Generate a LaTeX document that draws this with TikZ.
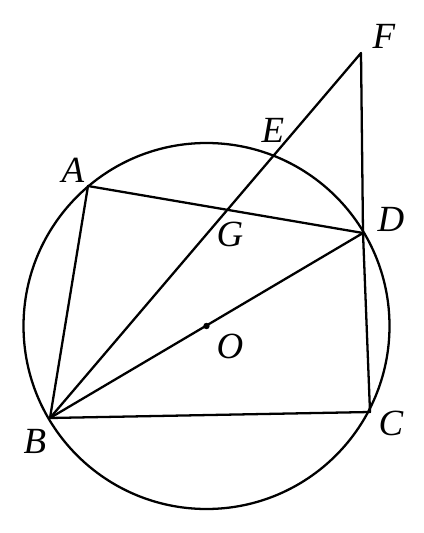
\documentclass[tikz,border=0pt]{standalone}
\usepackage{fontspec}
\setmainfont{Liberation Serif}
\begin{document}
\begin{tikzpicture}[x=0.02cm,y=-0.02cm,
  ln/.style={line width=1.3pt,line join=round},
  lbl/.style={font=\fontsize{21}{24}\selectfont\itshape,inner sep=0pt}]
\useasboundingbox (0,0) rectangle (423,533);
\coordinate (O) at (206.5,326);
\coordinate (A) at (88,186);
\coordinate (B) at (50,418);
\coordinate (C) at (370,412);
\coordinate (D) at (363,233);
\coordinate (F) at (361,53);
\coordinate (E) at (273,155);
\coordinate (G) at (intersection of A--D and B--F);
\draw[ln] (O) circle[radius=183];
\draw[ln] (A) -- (B) -- (C) -- (D) -- cycle;
\draw[ln] (B) -- (D);
\draw[ln] (B) -- (F) -- (D);
\fill (O) circle[radius=3.2];
\node[lbl] (lA) at (73,170) {A};
\node[lbl] (lB) at (35,441) {B};
\node[lbl] (lC) at (391,423) {C};
\node[lbl] (lD) at (391,219) {D};
\node[lbl] (lE) at (273,130) {E};
\node[lbl] (lF) at (384,36) {F};
\node[lbl] (lG) at (230,234) {G};
\node[lbl] (lO) at (230,346) {O};
\end{tikzpicture}
\end{document}
